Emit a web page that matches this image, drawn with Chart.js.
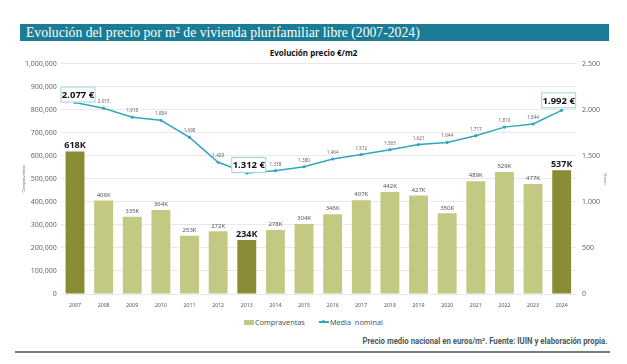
<!DOCTYPE html>
<html>
<head>
<meta charset="utf-8">
<script src="https://cdn.jsdelivr.net/npm/chart.js@4"></script>
<style>
body{margin:0;width:627px;height:364px;background:#fff;position:relative;overflow:hidden;font-family:"Noto Sans",sans-serif}
#banner{position:absolute;left:20px;top:24px;width:589px;height:17px;background:#1c7b95;color:#fff;font-family:"Liberation Serif",serif;font-size:13.7px;line-height:17px;padding-left:6px;box-sizing:border-box;white-space:nowrap}
#ctitle{position:absolute;top:47px;left:0;width:627px;text-align:center;font-weight:bold;font-size:8px;color:#111}
#wrap{position:absolute;left:0;top:44px;width:627px;height:270px}
#legend{position:absolute;top:316px;left:0;width:627px;text-align:center;font-size:7.3px;color:#555}
#legend span{display:inline-block;vertical-align:middle}
.sw-bar{width:10px;height:5px;background:#c3c883;margin-right:1px}
.sw-line{width:10px;height:1.5px;background:#2fa8bf;position:relative;margin-right:1px;margin-left:14px}
.sw-line:after{content:"";position:absolute;left:3.5px;top:-1.25px;width:3px;height:3px;border-radius:50%;background:#2fa8bf}
#note{position:absolute;top:336px;right:19px;font-family:Roboto,sans-serif;font-weight:bold;font-size:8.4px;color:#4b5c5e;transform:scaleX(0.93);transform-origin:right center;white-space:nowrap}
#rule{position:absolute;left:15px;top:351px;width:595px;height:1.5px;background:#6f7f80}
</style>
</head>
<body>
<div id="banner">Evolución del precio por m² de vivienda plurifamiliar libre (2007-2024)</div>
<div id="ctitle">Evolución precio €/m2</div>
<div id="wrap"><canvas id="chart"></canvas></div>
<div id="legend"><span class="sw-bar"></span><span>Compraventas</span><span class="sw-line"></span><span>Media&nbsp; nominal</span></div>
<div id="note">Precio medio nacional en euros/m². Fuente: IUIN y elaboración propia.</div>
<div id="rule"></div>
<script>
const years = ["2007","2008","2009","2010","2011","2012","2013","2014","2015","2016","2017","2018","2019","2020","2021","2022","2023","2024"]
const compraventas = [618000,406000,335000,364000,253000,272000,234000,278000,304000,346000,407000,442000,427000,350000,489000,529000,477000,537000]
const precio = [2077,2015,1918,1884,1698,1429,1312,1338,1380,1464,1512,1565,1621,1644,1717,1810,1844,1992]
const destacados = ["2007","2013","2024"]

const lightBar = "#c3c883"
const darkBar = "#8a8c35"
const teal = "#2fa8bf"

// posicion de las cajas destacadas respecto al punto
const calloutShift = {"2007": [3, 0], "2013": [2, 0], "2024": [-3, 2]}

const labelPlugin = {
    id: "valueLabels",
    afterDatasetsDraw(chart){
        const ctx = chart.ctx
        ctx.save()
        ctx.textAlign = "center"
        ctx.textBaseline = "bottom"
        chart.getDatasetMeta(1).data.forEach((bar, i)=>{
            const big = destacados.includes(years[i])
            ctx.font = big ? 'bold 9px "Noto Sans"' : '6px "Noto Sans"'
            ctx.fillStyle = big ? "#1a1a1a" : "#555"
            ctx.fillText(Math.round(compraventas[i]/1000) + "K", bar.x, bar.y - (big ? 1.5 : 2.5))
        })
        chart.getDatasetMeta(0).data.forEach((p, i)=>{
            const txt = precio[i].toLocaleString("de-DE")
            if(destacados.includes(years[i])){
                const [dx, dy] = calloutShift[years[i]]
                const w = 35, h = 16
                const cx = p.x + dx, bottom = p.y - dy
                ctx.fillStyle = "#fff"
                ctx.fillRect(cx - w/2, bottom - h, w, h)
                ctx.strokeStyle = "#9fd2dc"
                ctx.lineWidth = 1
                ctx.strokeRect(cx - w/2 + 0.5, bottom - h + 0.5, w - 1, h - 1)
                ctx.font = 'bold 9.5px "Noto Sans"'
                ctx.fillStyle = "#111"
                ctx.textBaseline = "middle"
                ctx.fillText(txt + " €", cx, bottom - h/2 + 0.5)
                ctx.textBaseline = "bottom"
            }else{
                ctx.font = '4.6px "Noto Sans"'
                ctx.fillStyle = "#666"
                ctx.fillText(txt, p.x, p.y - 4)
            }
        })
        ctx.restore()
    }
}

new Chart(document.getElementById("chart"), {
    data: {
        labels: years,
        datasets: [
            {
                type: "line",
                label: "Media nominal",
                data: precio,
                yAxisID: "y1",
                borderColor: teal,
                backgroundColor: teal,
                borderWidth: 1.5,
                pointRadius: 1.6,
                pointBackgroundColor: teal,
                pointBorderWidth: 0,
                tension: 0,
                order: 0
            },
            {
                type: "bar",
                label: "Compraventas",
                data: compraventas,
                yAxisID: "y",
                backgroundColor: years.map(y=>destacados.includes(y) ? darkBar : lightBar),
                categoryPercentage: 1,
                barPercentage: 0.66,
                order: 1
            }
        ]
    },
    options: {
        responsive: true,
        maintainAspectRatio: false,
        animation: false,
        devicePixelRatio: 1,
        layout: {padding: {top: 19.5, bottom: 0, left: 0, right: 0}},
        plugins: {
            legend: {display: false},
            title: {display: false},
            tooltip: {enabled: false}
        },
        scales: {
            x: {
                offset: true,
                grid: {display: false},
                border: {display: false},
                ticks: {font: {size: 5.2, family: "Noto Sans"}, color: "#555", padding: 0, maxRotation: 0, autoSkip: false},
                afterFit(scale){ scale.height = 20 }
            },
            y: {
                position: "left",
                min: 0,
                max: 1000000,
                ticks: {stepSize: 100000, font: {size: 7, family: "Noto Sans"}, color: "#666", padding: 4,
                    callback: v=>v.toLocaleString("en-US")},
                grid: {color: "#e9e9e9", lineWidth: 1, drawTicks: false},
                border: {display: false},
                title: {display: true, text: "Compraventas", font: {size: 4, family: "Noto Sans"}, color: "#777", padding: {top: 21, bottom: 0}},
                afterFit(scale){ scale.width = 60.7 }
            },
            y1: {
                position: "right",
                min: 0,
                max: 2500,
                ticks: {stepSize: 500, font: {size: 7, family: "Noto Sans"}, color: "#666", padding: 6,
                    callback: v=>v.toLocaleString("de-DE")},
                grid: {display: false, drawTicks: false},
                border: {display: false},
                title: {display: true, text: "Precio", font: {size: 4, family: "Noto Sans"}, color: "#777", padding: {top: 19, bottom: 0}},
                afterFit(scale){ scale.width = 51 }
            }
        }
    },
    plugins: [labelPlugin]
})
</script>
</body>
</html>
